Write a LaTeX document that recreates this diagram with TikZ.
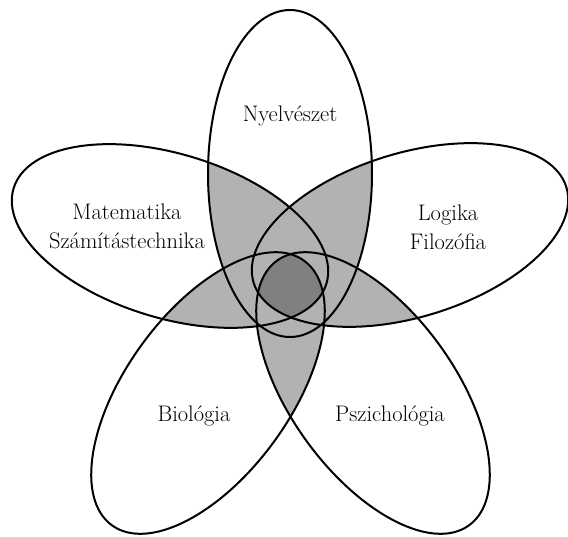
\documentclass[tikz,border=0pt]{standalone}
\usepackage{tikz}
\tikzset{
  petal/.style={x radius=163.5, y radius=82},
  rim/.style={line width=2pt, black},
  pair/.style={fill=black!30},
  core/.style={fill=black!50},
  lbl/.style={font=\fontsize{22.5}{29}\selectfont, align=center, inner sep=0pt},
}

\begin{document}
\begin{tikzpicture}[x=1pt, y=-1pt]
\useasboundingbox (0,0) rectangle (568,537);

%% ─── Petal centres ──────────────────────────────────────────────────────────
\coordinate (nyelv)  at (290,173.5);
\coordinate (matek)  at (170,236);
\coordinate (logika) at (410,235);
\coordinate (bio)    at (208,393);
\coordinate (pszi)   at (373,393);

%% ─── Overlap of any two petals (light grey) ─────────────────────────────────
\foreach \a/\ra/\b/\rb in {nyelv/90/matek/-17, nyelv/90/logika/17,
    nyelv/90/bio/54, nyelv/90/pszi/-54, matek/-17/logika/17,
    matek/-17/bio/54, matek/-17/pszi/-54, logika/17/bio/54,
    logika/17/pszi/-54, bio/54/pszi/-54} {
  \begin{scope}
    \clip[shift={(\a)}, rotate=\ra] (0,0) ellipse [petal];
    \fill[pair, shift={(\b)}, rotate=\rb] (0,0) ellipse [petal];
  \end{scope}
}

%% ─── Common core of all five (dark grey) ────────────────────────────────────
\begin{scope}
  \clip[shift={(nyelv)},  rotate=90]  (0,0) ellipse [petal];
  \clip[shift={(matek)},  rotate=-17] (0,0) ellipse [petal];
  \clip[shift={(logika)}, rotate=17]  (0,0) ellipse [petal];
  \clip[shift={(bio)},    rotate=54]  (0,0) ellipse [petal];
  \fill[core, shift={(pszi)}, rotate=-54] (0,0) ellipse [petal];
\end{scope}

%% ─── Outlines ───────────────────────────────────────────────────────────────
\foreach \c/\r in {nyelv/90, matek/-17, logika/17, bio/54, pszi/-54}
  \draw[rim, shift={(\c)}, rotate=\r] (0,0) ellipse [petal];

%% ─── Labels ─────────────────────────────────────────────────────────────────
\node[lbl] (tnyelv)  at (290,116) {Nyelvészet};
\node[lbl] (tmatek)  at (127,226) {Matematika\\Számítástechnika};
\node[lbl] (tlogika) at (448,227) {Logika\\Filozófia};
\node[lbl] (tbio)    at (194,416) {Biológia};
\node[lbl] (tpszi)   at (390,416) {Pszichológia};

\end{tikzpicture}
\end{document}
